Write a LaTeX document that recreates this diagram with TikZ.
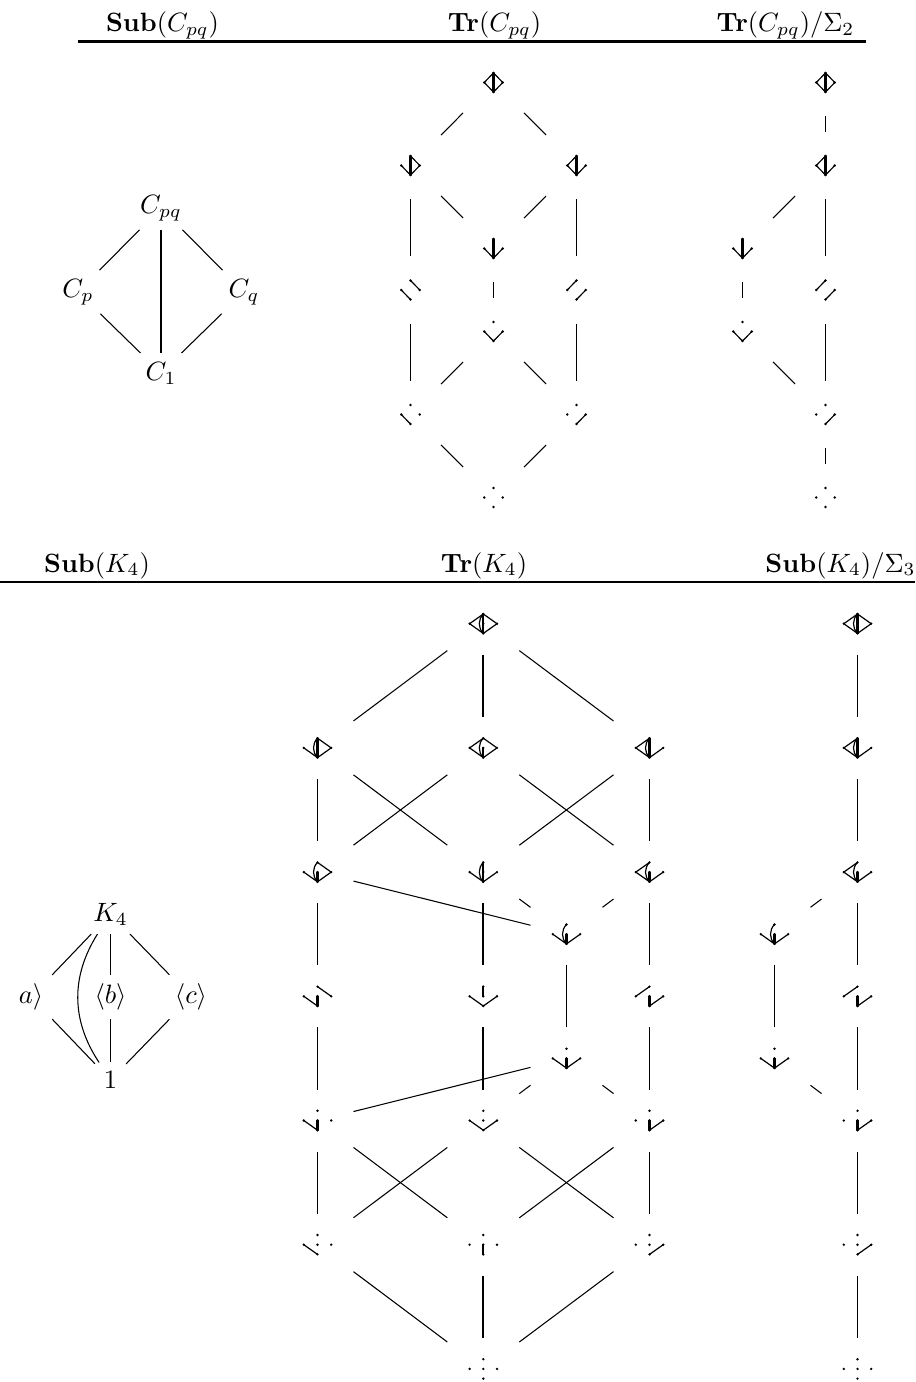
\documentclass[tikz,border=0pt]{standalone}
\usetikzlibrary{calc}
\tikzset{
  edge/.style={line width=0.4pt},
  thickedge/.style={line width=0.75pt},
  rulel/.style={line width=0.8pt},
  kbox/.style={rectangle, inner sep=0pt, outer sep=0pt, minimum width=27.17pt, minimum height=23.4pt},
  cbox/.style={rectangle, inner sep=0pt, outer sep=0pt, minimum width=23.0pt, minimum height=25.3pt},
  sub/.style={rectangle, inner sep=3.4pt, outer sep=0pt},
  gline/.style={line width=0.45pt, line cap=round},
  gthick/.style={line width=0.8pt, line cap=round},
  hdr/.style={anchor=base, inner sep=0pt},
}
\pgfkeys{
  /gcpq/L/.code={\draw[gline] (gL)--(gT);},
  /gcpq/R/.code={\draw[gline] (gR)--(gT);},
  /gcpq/l/.code={\draw[gline] (gL)--(gB);},
  /gcpq/r/.code={\draw[gline] (gR)--(gB);},
  /gcpq/V/.code={\draw[gthick] (gT)--(gB);},
  /gk/L/.code={\draw[gline] (gL)--(gT);},
  /gk/C/.code={\draw[gthick] (gC)--(gT);},
  /gk/R/.code={\draw[gline] (gR)--(gT);},
  /gk/l/.code={\draw[gline] (gL)--(gB);},
  /gk/c/.code={\draw[gthick] (gC)--(gB);},
  /gk/r/.code={\draw[gline] (gR)--(gB);},
  /gk/A/.code={\draw[gline] (gT) to[bend right=45] (gB);},
}
\newcommand\GlyphC[2]{%
  \begin{scope}[shift={(#1.center)}]
    \coordinate (gT) at (0,-9.5);
    \coordinate (gL) at (-9.3,0);
    \coordinate (gR) at (9.3,0);
    \coordinate (gB) at (0,9.5);
    \pgfkeys{/gcpq/.cd,#2}
    \foreach \p in {gT,gL,gR,gB} {\fill (\p) circle (0.5pt);}
  \end{scope}}
\newcommand\GlyphK[2]{%
  \begin{scope}[shift={(#1.center)}]
    \coordinate (gT) at (0,-9.7);
    \coordinate (gL) at (-13.7,0);
    \coordinate (gC) at (0,0);
    \coordinate (gR) at (13.7,0);
    \coordinate (gB) at (0,9.7);
    \pgfkeys{/gk/.cd,#2}
    \foreach \p in {gT,gL,gC,gR,gB} {\fill (\p) circle (0.5pt);}
  \end{scope}}
\newcommand\CN[3]{\node[cbox] (#1) at (#2) {}; \GlyphC{#1}{#3}}
\newcommand\KN[3]{\node[kbox] (#1) at (#2) {}; \GlyphK{#1}{#3}}
\begin{document}
\begin{tikzpicture}[x=0.3774pt, y=-0.3774pt]
\useasboundingbox (0,0) rectangle (915,1382);

% ---------- headers ----------
\node[hdr] (h1) at (162.5,32) {$\mathbf{Sub}(C_{pq})$};
\node[hdr] (h2) at (494.5,32) {$\mathbf{Tr}(C_{pq})$};
\node[hdr] (h3) at (785.5,32) {$\mathbf{Tr}(C_{pq})/\Sigma_2$};
\draw[rulel] (78,41.5) -- (866,41.5);
\node[hdr] (h4) at (97,572) {$\mathbf{Sub}(K_4)$};
\node[hdr] (h5) at (484,572) {$\mathbf{Tr}(K_4)$};
\node[hdr] (h6) at (840.5,572) {$\mathbf{Sub}(K_4)/\Sigma_3$};
\draw[rulel] (0,582) -- (915,582);

% ---------- Sub(C_pq) ----------
\node[sub] (cpq) at (161,208) {$C_{pq}$};
\node[sub] (cp) at (78,292) {$C_p$};
\node[sub] (cq) at (244,292) {$C_q$};
\node[sub] (cone) at (161,373) {$C_1$};
\draw[edge] (cpq) -- (cp);
\draw[edge] (cpq) -- (cq);
\draw[edge] (cp) -- (cone);
\draw[edge] (cq) -- (cone);
\draw[thickedge] (cpq) -- (cone);

% ---------- Tr(C_pq) ----------
\CN{c0}{493.5,82.5}{L,R,l,r,V}
\CN{c1}{410.5,165.5}{R,l,r,V}
\CN{c2}{576.5,165.5}{L,l,r,V}
\CN{c3}{493.5,248.5}{l,r,V}
\CN{c4}{410.5,290}{R,l}
\CN{c5}{576.5,290}{L,r}
\CN{c6}{493.5,331.5}{l,r}
\CN{c7}{410.5,414.5}{l}
\CN{c8}{576.5,414.5}{r}
\CN{c9}{493.5,497.5}{}
\foreach \a/\b in {c0/c1,c0/c2,c1/c3,c2/c3,c1/c4,c2/c5,c3/c6,c4/c7,c5/c8,c6/c7,c6/c8,c7/c9,c8/c9}
  {\draw[edge] (\a) -- (\b);}

% ---------- Tr(C_pq)/Sigma_2 ----------
\CN{s0}{825.5,82.5}{L,R,l,r,V}
\CN{s1}{825.5,165.5}{L,l,r,V}
\CN{s2}{742.5,248.5}{l,r,V}
\CN{s3}{825.5,290}{L,r}
\CN{s4}{742.5,331.5}{l,r}
\CN{s5}{825.5,414.5}{r}
\CN{s6}{825.5,497.5}{}
\foreach \a/\b in {s0/s1,s1/s2,s1/s3,s2/s4,s3/s5,s4/s5,s5/s6}
  {\draw[edge] (\a) -- (\b);}

% ---------- Sub(K_4) ----------
\node[sub] (sk) at (110.5,914) {$K_4$};
\node[sub] (sa) at (31,997) {$a\rangle$};
\node[sub] (sb) at (110.5,997) {$\langle b\rangle$};
\node[sub] (sc) at (191,997) {$\langle c\rangle$};
\node[sub] (sone) at (110.5,1080) {$1$};
\draw[edge] (sk) -- (sa);
\draw[edge] (sk) -- (sb);
\draw[edge] (sk) -- (sc);
\draw[edge] (sa) -- (sone);
\draw[edge] (sb) -- (sone);
\draw[edge] (sc) -- (sone);
\draw[edge] (sk) to[bend right=33] (sone);

% ---------- Tr(K_4) ----------
\KN{k0}{483.3,623.7}{L,C,R,l,c,r,A}
\KN{k1a}{317.5,747.9}{C,R,l,c,r,A}
\KN{k1b}{483.3,747.9}{L,R,l,c,r,A}
\KN{k1c}{649.5,747.9}{L,C,l,c,r,A}
\KN{k2a}{317.5,872.1}{R,l,c,r,A}
\KN{k2b}{483.3,872.1}{C,l,c,r,A}
\KN{k2c}{649.5,872.1}{L,l,c,r,A}
\KN{kx3}{566.5,934.2}{l,c,r,A}
\KN{k3a}{317.5,996.3}{R,l,c}
\KN{k3b}{483.3,996.3}{C,l,r}
\KN{k3c}{649.5,996.3}{L,c,r}
\KN{kx4}{566.5,1058.4}{l,c,r}
\KN{k4a}{317.5,1120.5}{l,c}
\KN{k4b}{483.3,1120.5}{l,r}
\KN{k4c}{649.5,1120.5}{c,r}
\KN{k5a}{317.5,1244.7}{l}
\KN{k5b}{483.3,1244.7}{c}
\KN{k5c}{649.5,1244.7}{r}
\KN{k6}{483.3,1368.9}{}
\foreach \a/\b in {k0/k1a,k0/k1c,k1a/k2a,k1a/k2b,k1b/k2a,k1b/k2c,k1c/k2b,k1c/k2c,
  k2a/kx3,k2b/kx3,k2c/kx3,k2a/k3a,k2c/k3c,kx3/kx4,k3a/k4a,k3c/k4c,
  kx4/k4a,kx4/k4b,kx4/k4c,k4a/k5a,k4a/k5b,k4b/k5a,k4b/k5c,k4c/k5b,k4c/k5c,
  k5a/k6,k5c/k6}
  {\draw[edge] (\a) -- (\b);}
\foreach \a/\b in {k0/k1b,k2b/k3b,k3b/k4b,k5b/k6}
  {\draw[thickedge] (\a) -- (\b);}

% ---------- Sub(K_4)/Sigma_3 ----------
\KN{q0}{857.5,623.7}{L,C,R,l,c,r,A}
\KN{q1}{857.5,747.9}{L,C,l,c,r,A}
\KN{q2}{857.5,872.1}{L,l,c,r,A}
\KN{qx3}{774.5,934.2}{l,c,r,A}
\KN{q3}{857.5,996.3}{L,c,r}
\KN{qx4}{774.5,1058.4}{l,c,r}
\KN{q4}{857.5,1120.5}{c,r}
\KN{q5}{857.5,1244.7}{r}
\KN{q6}{857.5,1368.9}{}
\foreach \a/\b in {q0/q1,q1/q2,q2/qx3,q2/q3,qx3/qx4,q3/q4,qx4/q4,q4/q5,q5/q6}
  {\draw[edge] (\a) -- (\b);}
\end{tikzpicture}
\end{document}
